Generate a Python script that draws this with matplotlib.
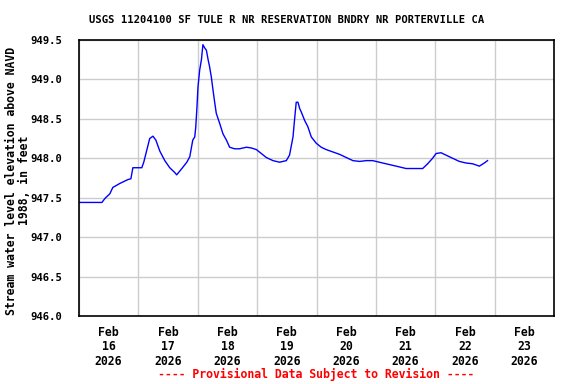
import numpy as np
import pandas as pd
import matplotlib
matplotlib.use("Agg")
import matplotlib.pyplot as plt
import matplotlib.dates as mdates

# hours since 2026-02-16 00:00 and gage height (ft)
hours = [0, 9.3, 10.5, 12.5, 13.7, 16.5, 19.8, 21.0, 21.8, 25.4, 26.2, 27.4, 28.6, 29.9,
         31.1, 32.7, 34.7, 36.7, 38.7, 39.5, 41.6, 43.6, 44.8, 46.0, 46.8, 47.2, 47.7,
         48.1, 48.8, 49.5, 50.1, 50.8, 51.5, 52.2, 52.8, 53.5, 54.2, 54.9, 55.5, 56.9,
         58.2, 59.6, 60.9, 62.9, 64.9, 67.7, 69.7, 71.7, 73.7, 75.7, 78.4, 81.1, 83.8,
         85.1, 86.5, 87.1, 87.8, 88.5, 89.2, 89.8, 91.2, 92.5, 93.9, 95.9, 97.9, 99.9,
         102.6, 105.3, 108.0, 110.7, 113.4, 116.1, 118.7, 121.4, 124.1, 128.2, 132.2,
         136.2, 138.9, 140.9, 142.9, 144.3, 146.3, 148.3, 151.0, 153.7, 156.4, 159.1,
         161.8, 163.8, 165.1]
stage = [947.44, 947.44, 947.49, 947.55, 947.63, 947.68, 947.73, 947.74, 947.88, 947.88,
         947.95, 948.10, 948.25, 948.28, 948.23, 948.09, 947.97, 947.88, 947.82, 947.79,
         947.87, 947.95, 948.02, 948.23, 948.27, 948.39, 948.65, 948.90, 949.12, 949.25,
         949.44, 949.40, 949.37, 949.25, 949.16, 949.03, 948.86, 948.70, 948.57, 948.44,
         948.31, 948.23, 948.14, 948.12, 948.12, 948.14, 948.13, 948.11, 948.06, 948.01,
         947.97, 947.95, 947.97, 948.04, 948.27, 948.48, 948.71, 948.71, 948.63, 948.59,
         948.48, 948.40, 948.27, 948.19, 948.14, 948.11, 948.08, 948.05, 948.01, 947.97,
         947.96, 947.97, 947.97, 947.95, 947.93, 947.90, 947.87, 947.87, 947.87, 947.93,
         948.00, 948.06, 948.07, 948.04, 948.00, 947.96, 947.94, 947.93, 947.90, 947.94,
         947.97]

start = pd.Timestamp("2026-02-16")
times = start + pd.to_timedelta(hours, unit="h")
days = pd.date_range("2026-02-16", "2026-02-24", freq="D")
labels = [d.strftime("%b\n%d\n%Y") for d in days[:-1]]
yticks = [946.0, 946.5, 947.0, 947.5, 948.0, 948.5, 949.0, 949.5]

font = "DejaVu Sans Mono"
fs = 7.6
fs2 = 8.3

fig = plt.figure(figsize=(5.76, 3.84), dpi=100)
ax = fig.add_axes([0.137, 0.177, 0.825, 0.719])
ax.plot(times, stage, color="blue", lw=1)

ax.set_xlim(days[0], days[-1])
ax.set_ylim(946.0, 949.5)
ax.set_xticks(days)
ax.set_xticklabels([])
ax.set_xticks(days[:-1] + pd.Timedelta(hours=12), minor=True)
ax.set_xticklabels(labels, minor=True, fontfamily=font, fontweight="bold", fontsize=fs2,
                   linespacing=1.15)
ax.set_yticks(yticks)
ax.set_yticklabels(["%.1f" % v for v in yticks], fontfamily=font, fontweight="bold", fontsize=fs)
ax.tick_params(axis="x", which="both", length=0, pad=7)
ax.tick_params(axis="y", which="both", length=0, pad=12)
ax.grid(True, which="major", color="#cccccc", lw=1)
for s in ax.spines.values():
    s.set_linewidth(1.2)

fig.text(0.032, 0.53, "Stream water level elevation above NAVD\n1988, in feet",
         rotation=90, ha="center", va="center", multialignment="center",
         fontfamily=font, fontweight="bold", fontsize=fs2, linespacing=1.0)
fig.text(0.497, 0.948, "USGS 11204100 SF TULE R NR RESERVATION BNDRY NR PORTERVILLE CA",
         ha="center", va="center", fontfamily=font, fontweight="bold", fontsize=fs)
fig.text(0.548, 0.024, "---- Provisional Data Subject to Revision ----",
         ha="center", va="center", color="red", fontfamily=font, fontweight="bold", fontsize=fs2)

fig.savefig("out.png", dpi=100)
